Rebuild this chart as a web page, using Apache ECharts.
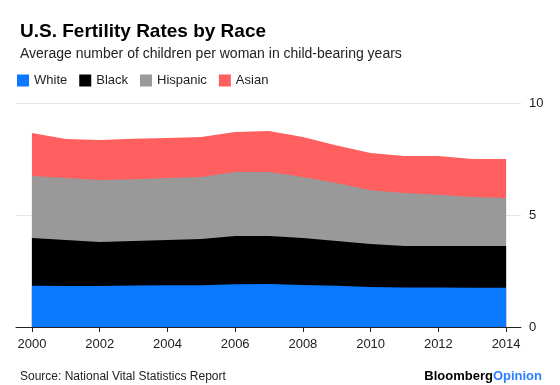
<!DOCTYPE html>
<html><head><meta charset="utf-8">
<script src="https://cdn.jsdelivr.net/npm/echarts@6/dist/echarts.min.js"></script>
<style>html,body{margin:0;padding:0;background:#fff}#c{width:560px;height:385px}</style>
</head><body><div id="c"></div>
<script>
const years = [2000,2001,2002,2003,2004,2005,2006,2007,2008,2009,2010,2011,2012,2013,2014];
const white    = [1.84,1.83,1.83,1.85,1.86,1.86,1.91,1.92,1.88,1.84,1.79,1.76,1.76,1.75,1.75];
const black    = [2.13,2.05,1.97,1.99,2.02,2.07,2.15,2.14,2.09,2.00,1.91,1.86,1.86,1.87,1.87];
const hispanic = [2.77,2.77,2.76,2.76,2.77,2.77,2.86,2.86,2.73,2.59,2.40,2.36,2.28,2.18,2.14];
const asian    = [1.92,1.74,1.79,1.80,1.79,1.78,1.78,1.83,1.78,1.67,1.67,1.65,1.73,1.70,1.74];
const xTicks = [2000,2002,2004,2006,2008,2010,2012,2014];

const FONT = '"Liberation Sans", Arial, sans-serif';
const colors = {White:'#0a78ff', Black:'#000000', Hispanic:'#999999', Asian:'#ff5f5f'};
const seriesDefs = [['White',white],['Black',black],['Hispanic',hispanic],['Asian',asian]];

// cumulative stack (each area filled down to zero, lower layers drawn on top)
const cum = years.map(()=>0);
const stacked = seriesDefs.map(([name,vals])=>{
  const d = years.map((y,i)=>{ cum[i] += vals[i]; return [y, +cum[i].toFixed(3)]; });
  return {name, d};
});

const chart = echarts.init(document.getElementById('c'), null, {renderer:'canvas'});
chart.setOption({
  animation:false,
  textStyle:{fontFamily:FONT},
  title:[
    {text:'U.S. Fertility Rates by Race', left:15, top:17,
     textStyle:{fontFamily:FONT, fontWeight:'bold', fontSize:19, color:'#000'}},
    {text:'Average number of children per woman in child-bearing years', left:15, top:42,
     textStyle:{fontFamily:FONT, fontWeight:'normal', fontSize:14, color:'#222'}},
    {text:'Source: National Vital Statistics Report', left:15, top:366,
     textStyle:{fontFamily:FONT, fontWeight:'normal', fontSize:12, color:'#222'}},
    {text:'{a|Bloomberg}{b|Opinion}', right:13, top:365,
     textStyle:{rich:{a:{fontFamily:FONT, fontWeight:'bold', fontSize:13, color:'#000'},
                      b:{fontFamily:FONT, fontWeight:'bold', fontSize:13, color:'#2b7fff'}}}}
  ],
  legend:{left:12, top:69, itemWidth:12, itemHeight:12, itemGap:12, icon:'rect',
    textStyle:{fontFamily:FONT, fontSize:13, color:'#222'},
    data:seriesDefs.map(d=>d[0])},
  grid:{left:16, right:39, top:103, bottom:58},
  xAxis:{type:'value', min:1999.53, max:2014.44,
    axisLine:{show:true, lineStyle:{color:'#222', width:1}},
    axisTick:{show:true, customValues:xTicks, length:5, lineStyle:{color:'#222'}},
    axisLabel:{customValues:xTicks, fontFamily:FONT, fontSize:13, color:'#222', margin:11,
      formatter:v=>String(v)},
    splitLine:{show:false}},
  yAxis:{type:'value', position:'right', min:0, max:10, interval:5,
    axisLine:{show:false}, axisTick:{show:false},
    axisLabel:{fontFamily:FONT, fontSize:13, color:'#222', margin:8},
    splitLine:{show:true, lineStyle:{color:'#e6e6e6', width:1}}},
  series:stacked.map((s,k)=>({
    name:s.name, type:'line', symbol:'none', showSymbol:false,
    lineStyle:{width:0}, itemStyle:{color:colors[s.name]},
    areaStyle:{color:colors[s.name], opacity:1, origin:0},
    data:s.d, z:10-k
  }))
});
</script></body></html>
